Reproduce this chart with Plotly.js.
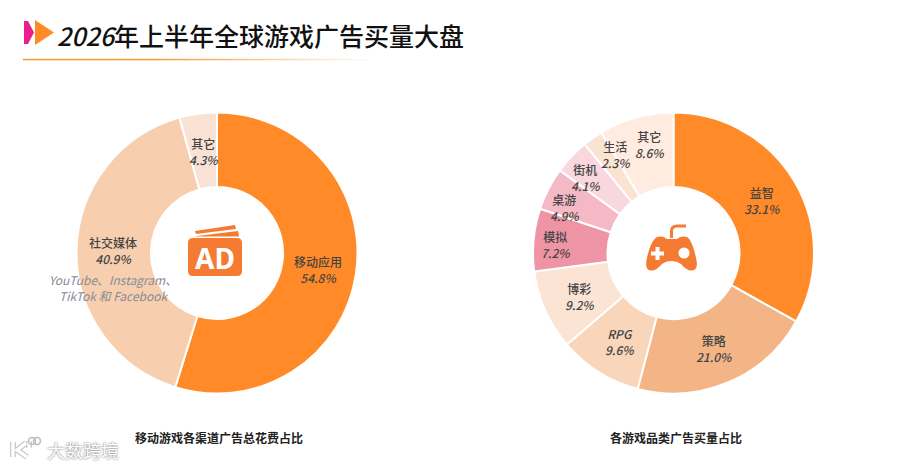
<!DOCTYPE html>
<html><head><meta charset="utf-8">
<script src="https://cdn.plot.ly/plotly-3.0.1.min.js"></script>
<style>html,body{margin:0;padding:0;background:#fff}#c{width:900px;height:466px}</style></head>
<body><div id="c"></div>
<script>
const channelLabels=['移动应用','社交媒体','其它'];
const channelValues=[54.8,40.9,4.3];
const channelColors=['#FF8A27','#F7CFAE','#F9E2D4'];
const genreLabels=['益智','策略','RPG','博彩','模拟','桌游','街机','生活','其它'];
const genreValues=[33.1,21.0,9.6,9.2,7.2,4.9,4.1,2.3,8.6];
const genreColors=['#FF8A27','#F3B586','#F9D5B9','#FCE4D5','#EE94A4','#F5B9C6','#F9D7DF','#FBE3D2','#FFEBDF'];
const titleYear='2026';
const titleText='年上半年全球游戏广告买量大盘';
const captionLeft='移动游戏各渠道广告总花费占比';
const captionRight='各游戏品类广告买量占比';
const noteText='YouTube、Instagram、<br>TikTok 和 Facebook';
const watermark='大数跨境';

const W=900,H=466,FONT='"Noto Sans CJK SC","Noto Sans",sans-serif';
const X=x=>x/W, Y=y=>1-y/H;
const dom=(cx,cy,r)=>({x:[X(cx-r),X(cx+r)],y:[Y(cy+r),Y(cy-r)]});
const pie=(labels,values,colors,d,hole)=>({type:'pie',labels,values,domain:d,hole,sort:false,direction:'clockwise',rotation:0,
  textinfo:'none',hoverinfo:'skip',marker:{colors,line:{color:'#fff',width:2}},showlegend:false});
const P=s=>s.replace(/(-?[\d.]+),(-?[\d.]+)/g,(m,a,b)=>X(+a).toFixed(5)+','+Y(+b).toFixed(5));
const fill=(path,color)=>({type:'path',xref:'paper',yref:'paper',path:P(path),fillcolor:color,line:{width:0},layer:'above'});
const stroke=(path,color,w)=>({type:'path',xref:'paper',yref:'paper',path:P(path),fillcolor:'rgba(0,0,0,0)',line:{color,width:w},layer:'above'});
const circle=(cx,cy,r,f,lc,lw)=>({type:'circle',xref:'paper',yref:'paper',x0:X(cx-r),x1:X(cx+r),y0:Y(cy+r),y1:Y(cy-r),fillcolor:f,line:{color:lc||f,width:lw||0},layer:'above'});

const shapes=[];
shapes.push(fill('M24,21 L28,21 L34,32.5 L28,44 L24,44 Z','#EC1E8A'));
shapes.push(fill('M35,20 L54,32.5 L35,45 Z','#FF8A27'));
// fading rule, blended against white
for(let i=0;i<23;i++){const x0=23+i*15, t=Math.max(0,i-8)/15;
  const mix=(a)=>Math.round(a+(255-a)*t);
  shapes.push({type:'rect',xref:'paper',yref:'paper',x0:X(x0),x1:X(x0+15),y0:Y(60.3),y1:Y(58.8),layer:'above',line:{width:0},
    fillcolor:`rgb(${mix(245)},${mix(150)},${mix(50)})`});}
// AD icon
const o='#F57A32';
shapes.push(fill('M193,238 Q188,238 188,243 L188,271 Q188,276 193,276 L237,276 Q242,276 242,271 L242,243 Q242,238 237,238 Z',o));
shapes.push(fill('M195,231 L235,225 L236,229 L196,234 Z',o));
shapes.push(fill('M193,236.5 L238,231 L239,236.5 Z',o));
// game pad icon
shapes.push(fill('M656,237.5 Q662,235 667,239 L677,239 Q682,235 688,237.5 Q693,243 696,258 Q699,270 692,270.5 Q687,271 681,264 Q677,261 671.5,261 Q666,261 662,264 Q656,271 651,270.5 Q644,270 647,258 Q650,243 656,237.5 Z',o));
shapes.push(stroke('M671.5,238 L671.5,231 Q671.5,226 677,226 L686,226',o,3));
shapes.push(fill('M651,251.5 L655.5,251.5 L655.5,247 L659.5,247 L659.5,251.5 L664,251.5 L664,255.5 L659.5,255.5 L659.5,260 L655.5,260 L655.5,255.5 L651,255.5 Z','#fff'));
shapes.push(circle(684,253,5.5,'#fff'));
// watermark logo
const wmPaths=['M13,442 L13,457','M26,443 L17,450 L27,457','M29,441 L29,448'];
wmPaths.forEach(p=>shapes.push(stroke(p,'#bdbdbd',5.5)));
wmPaths.forEach(p=>shapes.push(stroke(p,'#ffffff',3.5)));
[[32,441,3.5],[37,441,3.5]].forEach(c=>shapes.push(circle(c[0],c[1],c[2],'rgba(255,255,255,0)','#bdbdbd',1.6)));

const ann=(x,y,text,size,color,extra)=>Object.assign({xref:'paper',yref:'paper',x:X(x),y:Y(y),xanchor:'center',yanchor:'middle',showarrow:false,text,
  font:{family:FONT,size,color,weight:500},align:'center'},extra||{});
const lab=(x,y,name,val)=>ann(x,y,(name==='RPG'?'<i>RPG</i>':name)+'<br><i>'+val.toFixed(1)+'%</i>',12,'#444');
const annotations=[
  ann(260,35,'<i>'+titleYear+'</i>'+titleText,25,'#111',{font:{family:FONT,size:25,color:'#111',weight:500}}),
  lab(318,269,channelLabels[0],channelValues[0]),
  lab(113,250.5,channelLabels[1],channelValues[1]),
  lab(203,151,channelLabels[2],channelValues[2]),
  ann(113,287,noteText,12,'#858b96',{font:{family:FONT,size:12,color:'#858b96',style:'italic'}}),
  ann(215,257.5,'AD',28,'#fff',{font:{family:'"Noto Sans",sans-serif',size:28,color:'#fff',weight:700}}),
  lab(762,201,genreLabels[0],genreValues[0]),
  lab(714,348,genreLabels[1],genreValues[1]),
  lab(619,341,genreLabels[2],genreValues[2]),
  lab(579,296,genreLabels[3],genreValues[3]),
  lab(555,244,genreLabels[4],genreValues[4]),
  lab(564,207,genreLabels[5],genreValues[5]),
  lab(585,178,genreLabels[6],genreValues[6]),
  lab(615,155,genreLabels[7],genreValues[7]),
  lab(649,144,genreLabels[8],genreValues[8]),
  ann(219,437,captionLeft,12,'#222',{font:{family:FONT,size:12,color:'#222',weight:700}}),
  ann(676,437,captionRight,12,'#222',{font:{family:FONT,size:12,color:'#222',weight:700}}),
  ann(83,449.5,watermark,18,'#fff',{font:{family:FONT,size:18,color:'#fff',shadow:'0 0 2px #555'}})
];
Plotly.newPlot('c',[
  pie(channelLabels,channelValues,channelColors,dom(217,253,140.5),0.47),
  pie(genreLabels,genreValues,genreColors,dom(673.5,253,140.5),0.47)
],{width:W,height:H,margin:{l:0,r:0,t:0,b:0},paper_bgcolor:'#fff',shapes,annotations,showlegend:false},{displayModeBar:false,staticPlot:true});
</script></body></html>
